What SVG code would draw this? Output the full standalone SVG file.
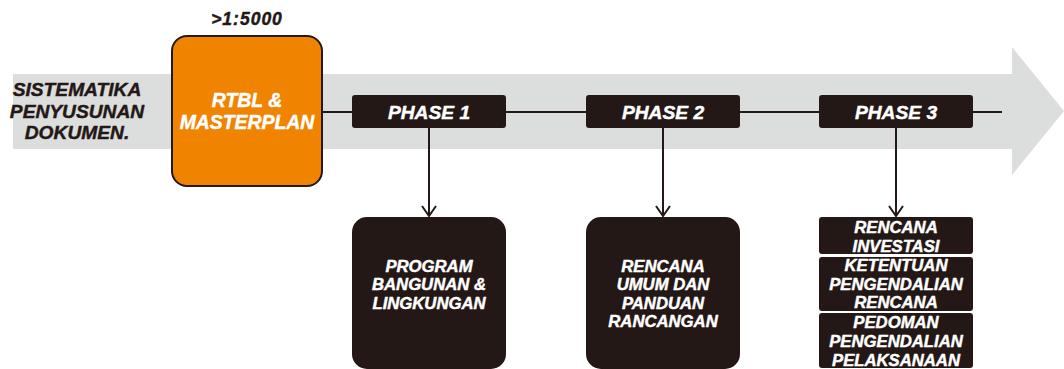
<svg xmlns="http://www.w3.org/2000/svg" width="1064" height="369" viewBox="0 0 1064 369">
<style>
text{font-family:"Liberation Sans",Arial,sans-serif;font-weight:700;font-style:italic;text-anchor:middle;stroke-width:0.45;stroke-linejoin:round}
.w{fill:#fff;stroke:#fff}
.d{fill:#231815;stroke:#231815}
.box{fill:#231815}
.ln{stroke:#231815;stroke-width:2;fill:none}
</style>
<defs>
<marker id="v" viewBox="0 0 12 16" refX="11" refY="8" markerWidth="12" markerHeight="16" markerUnits="userSpaceOnUse" orient="auto">
<path d="M1,1 L11,8 L1,15" fill="none" stroke="#231815" stroke-width="2"/>
</marker>
</defs>
<g id="band">
<polygon points="13,74 1012,74 1012,47 1064,111 1012,175 1012,149 13,149" fill="#DCDDDD"/>
</g>
<g id="connectors">
<line class="ln" x1="323" y1="112" x2="1002" y2="112"/>
<line class="ln" x1="429" y1="128" x2="429" y2="216" marker-end="url(#v)"/>
<line class="ln" x1="663" y1="128" x2="663" y2="216" marker-end="url(#v)"/>
<line class="ln" x1="896" y1="128" x2="896" y2="216" marker-end="url(#v)"/>
</g>
<g id="title">
<text class="d" font-size="19.2" x="77" y="96">SISTEMATIKA</text>
<text class="d" font-size="19.2" x="77" y="117.5">PENYUSUNAN</text>
<text class="d" font-size="19.2" x="77" y="139">DOKUMEN.</text>
</g>
<g id="rtbl">
<text class="d" font-size="17.5" x="247" y="25" letter-spacing="1">&gt;1:5000</text>
<rect x="172" y="36" width="150" height="150" rx="15" fill="#F08300" stroke="#231815" stroke-width="2"/>
<text class="w" font-size="19.4" x="247" y="107">RTBL &amp;</text>
<text class="w" font-size="19.4" x="247" y="129">MASTERPLAN</text>
</g>
<g id="phase1">
<rect class="box" x="352" y="95" width="154" height="33" rx="3"/>
<text class="w" font-size="19.2" x="429" y="119">PHASE 1</text>
</g>
<g id="phase2">
<rect class="box" x="586" y="95" width="154" height="33" rx="3"/>
<text class="w" font-size="19.2" x="663" y="119">PHASE 2</text>
</g>
<g id="phase3">
<rect class="box" x="819" y="95" width="154" height="33" rx="3"/>
<text class="w" font-size="19.2" x="896" y="119">PHASE 3</text>
</g>
<g id="program">
<rect class="box" x="352" y="217" width="154" height="152" rx="15"/>
<text class="w" font-size="16.7" x="429" y="271.5">PROGRAM</text>
<text class="w" font-size="16.7" x="429" y="290">BANGUNAN &amp;</text>
<text class="w" font-size="16.7" x="429" y="308.5">LINGKUNGAN</text>
</g>
<g id="rencana-umum">
<rect class="box" x="586" y="217" width="154" height="152" rx="15"/>
<text class="w" font-size="16.7" x="663" y="271.5">RENCANA</text>
<text class="w" font-size="16.7" x="663" y="290">UMUM DAN</text>
<text class="w" font-size="16.7" x="663" y="308.5">PANDUAN</text>
<text class="w" font-size="16.7" x="663" y="327">RANCANGAN</text>
</g>
<g id="rencana-investasi">
<rect class="box" x="819" y="217" width="154" height="37" rx="3"/>
<text class="w" font-size="16.7" x="896" y="233.3">RENCANA</text>
<text class="w" font-size="16.7" x="896" y="251.7">INVESTASI</text>
</g>
<g id="ketentuan">
<rect class="box" x="819" y="257" width="154" height="54" rx="3"/>
<text class="w" font-size="16.7" x="896" y="271">KETENTUAN</text>
<text class="w" font-size="16.7" x="896" y="290">PENGENDALIAN</text>
<text class="w" font-size="16.7" x="896" y="308.3">RENCANA</text>
</g>
<g id="pedoman">
<rect class="box" x="819" y="313" width="154" height="55" rx="3"/>
<text class="w" font-size="16.7" x="896" y="327.7">PEDOMAN</text>
<text class="w" font-size="16.7" x="896" y="346.7">PENGENDALIAN</text>
<text class="w" font-size="16.7" x="896" y="365.7">PELAKSANAAN</text>
</g>
</svg>
